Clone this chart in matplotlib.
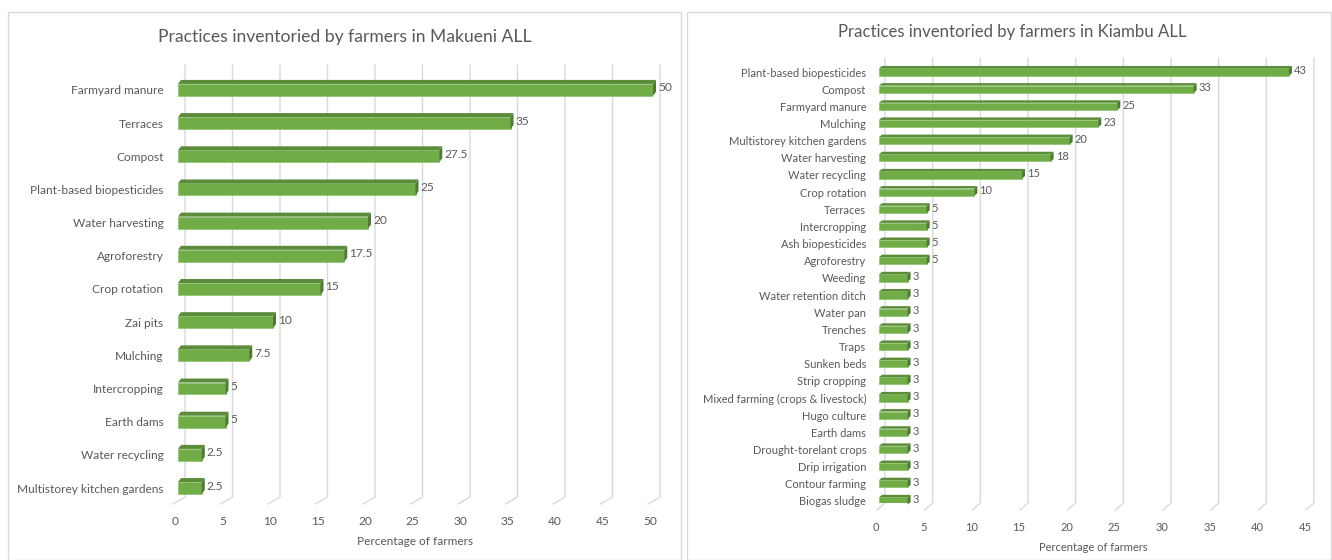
import numpy as np
import matplotlib.pyplot as plt
from matplotlib.patches import Polygon, Rectangle
from matplotlib.lines import Line2D
from matplotlib.transforms import ScaledTranslation

plt.rcParams['font.family'] = ['Lato', 'DejaVu Sans']

# Makueni ALL
makueni_practices = ["Farmyard manure", "Terraces", "Compost", "Plant-based biopesticides",
                     "Water harvesting", "Agroforestry", "Crop rotation", "Zai pits",
                     "Mulching", "Intercropping", "Earth dams", "Water recycling",
                     "Multistorey kitchen gardens"]
makueni_pct = [50, 35, 27.5, 25, 20, 17.5, 15, 10, 7.5, 5, 5, 2.5, 2.5]
makueni_labels = ["50", "35", "27.5", "25", "20", "17.5", "15", "10", "7.5", "5", "5", "2.5", "2.5"]

# Kiambu ALL
kiambu_practices = ["Plant-based biopesticides", "Compost", "Farmyard manure", "Mulching",
                    "Multistorey kitchen gardens", "Water harvesting", "Water recycling",
                    "Crop rotation", "Terraces", "Intercropping", "Ash biopesticides",
                    "Agroforestry", "Weeding", "Water retention ditch", "Water pan",
                    "Trenches", "Traps", "Sunken beds", "Strip cropping",
                    "Mixed farming (crops & livestock)", "Hugo culture", "Earth dams",
                    "Drought-torelant crops", "Drip irrigation", "Contour farming",
                    "Biogas sludge"]
kiambu_pct = [43, 33, 25, 23, 20, 18, 15, 10, 5, 5, 5, 5,
              3, 3, 3, 3, 3, 3, 3, 3, 3, 3, 3, 3, 3, 3]

W, H = 1332, 560
GREEN = "#70AD47"
TOP = "#5B8C3A"
SIDE = "#4F7A30"
GRID = "#D9D9D9"
TXT = "#595959"

fig = plt.figure(figsize=(W / 100, H / 100), dpi=100)

# chart area frames
for x0, x1 in [(8, 681), (687, 1331)]:
    fig.patches.append(Rectangle((x0 / W, 0), (x1 - x0) / W, 1 - 12 / H,
                                 transform=fig.transFigure, fill=False,
                                 edgecolor="#D9D9D9", linewidth=1))


def px_axes(left, right, top, bottom):
    return fig.add_axes([left / W, 1 - bottom / H, (right - left) / W, (bottom - top) / H])


def draw_panel(ax, names, vals, xmax, ylim, bar_h, depth, grid_off, foot_off,
               fs, ypad, tick_pad, val_labels=None):
    n = len(names)
    ypos = np.arange(n)
    ax.set_xlim(0, xmax)
    ax.set_ylim(*ylim)
    for s in ax.spines.values():
        s.set_visible(False)

    bars = ax.barh(ypos, vals, height=bar_h, color=GREEN, edgecolor="#8CC26A",
                   linewidth=0.5, zorder=3)

    to_disp = ax.transData.transform
    to_data = ax.transData.inverted().transform
    dx, dy = depth

    # top and side faces of each bar
    for r in bars:
        (xl, yb), (xr, yt) = to_disp([(r.get_x(), r.get_y()), (r.get_x() + r.get_width(),
                                                               r.get_y() + r.get_height())])
        yb, yt = min(yb, yt), max(yb, yt)
        top = [(xl, yt), (xr, yt), (xr + dx, yt + dy), (xl + dx, yt + dy)]
        side = [(xr, yb), (xr + dx, yb + dy), (xr + dx, yt + dy), (xr, yt)]
        ax.add_patch(Polygon(to_data(top), closed=True, facecolor=TOP,
                             edgecolor="none", zorder=4, clip_on=False))
        ax.add_patch(Polygon(to_data(side), closed=True, facecolor=SIDE,
                             edgecolor="none", zorder=4, clip_on=False))

    # back-wall gridlines with a short floor segment
    ticks = np.arange(0, xmax + 1, 5)
    ytop_d, ybot_d = ax.transAxes.transform([(0, 1), (0, 0)])[:, 1]
    for t in ticks:
        xd = to_disp([(t, 0)])[0, 0]
        pts = [(xd + grid_off, ytop_d), (xd + grid_off, ybot_d),
               (xd + foot_off[0], ybot_d - foot_off[1])]
        ax.add_line(Line2D(*zip(*to_data(pts)), color=GRID, linewidth=1,
                           zorder=1, clip_on=False))

    # value labels
    if val_labels is None:
        val_labels = [str(v) for v in vals]
    for y, v, lab in zip(ypos, vals, val_labels):
        ax.annotate(lab, (v, y), xytext=(dx + 2, dy / 2), textcoords="offset pixels",
                    ha="left", va="center", fontsize=fs, color=TXT, zorder=5)

    ax.set_yticks(ypos)
    ax.set_yticklabels(names, fontsize=fs, color=TXT)
    ax.set_xticks(ticks)
    ax.set_xticklabels([str(t) for t in ticks], fontsize=fs, color=TXT)
    ax.tick_params(axis="y", length=0, pad=ypad)
    ax.tick_params(axis="x", length=0, pad=tick_pad)
    for lab in ax.get_xticklabels():
        lab.set_transform(lab.get_transform() + ScaledTranslation(-3 / 100, 0, fig.dpi_scale_trans))
    ax.set_xlabel("Percentage of farmers", fontsize=fs, color=TXT, labelpad=6)


ax1 = px_axes(178, 653, 65, 497)
draw_panel(ax1, makueni_practices, makueni_pct, 50, (12.27, -0.75), 0.36, (3, 4),
           7, (-5, 7), 8.6, 10.5, 14, makueni_labels)

ax2 = px_axes(879, 1308, 58, 503)
draw_panel(ax2, kiambu_practices, kiambu_pct, 45, (25.12, -0.82), 0.42, (3, 2.5),
           6, (-2, 7), 8.0, 9.2, 14)

fig.text(344.5 / W, 1 - 37 / H, "Practices inventoried by farmers in Makueni ALL",
         ha="center", va="center", fontsize=12.6, color=TXT)
fig.text(1012 / W, 1 - 32 / H, "Practices inventoried by farmers in Kiambu ALL",
         ha="center", va="center", fontsize=12.1, color=TXT)

fig.savefig("out.png", dpi=100)
